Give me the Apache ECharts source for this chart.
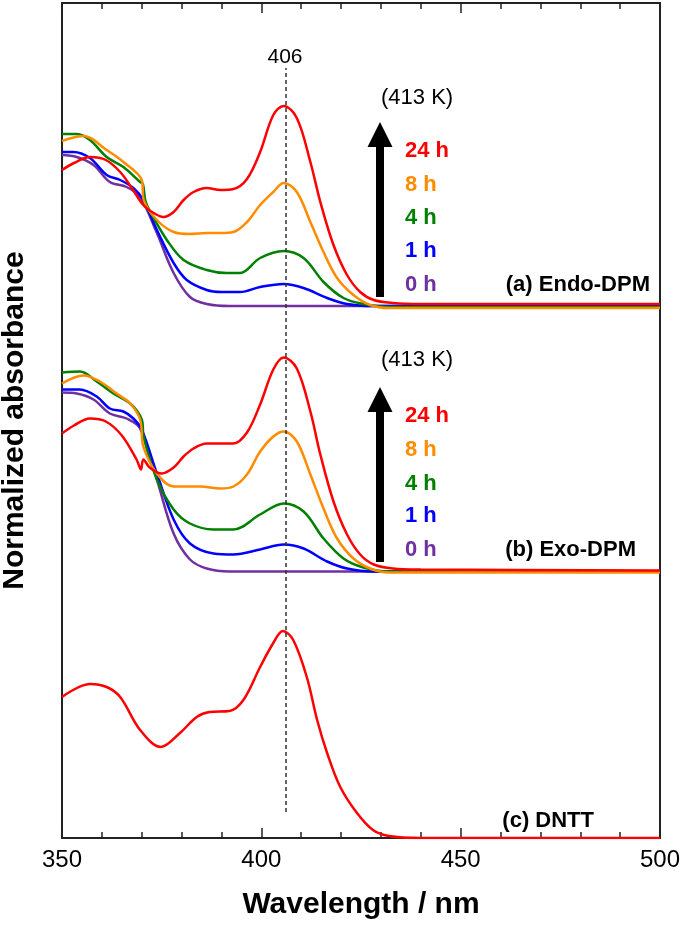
<!DOCTYPE html>
<html>
<head>
<meta charset="utf-8">
<script src="https://cdn.jsdelivr.net/npm/echarts@6/dist/echarts.min.js"></script>
<style>
  html, body { margin: 0; padding: 0; background: #fff; }
  #chart { width: 685px; height: 932px; }
</style>
</head>
<body>
<div id="chart"></div>
<script>
// wavelength ticks
var xTicks = [350, 400, 450, 500]
var hours = ['24 h', '8 h', '4 h', '1 h', '0 h']
var colors = ['#ff0000', '#ff8c00', '#008000', '#0000ff', '#7030a0']

// vertical offsets of the stacked spectra (arb. units)
var offA = 532, offB = 266.5, offC = 0

// (a) Endo-DPM, [wavelength, absorbance]
var endo24 = [[350,136],[353,143],[357,149],[361,146],[364.6,134],[367.5,118],[370.4,101],[373,93],[375.4,89],[378,94],[380.5,106],[383,114],[386.3,118],[389.7,116],[393,117],[396.4,127],[399.7,154],[403,191],[405.6,200],[408.9,188],[412.3,144],[414.8,104],[418.1,61],[421.5,31],[424.8,14],[428.2,6],[433,3],[440,2],[500,2]]
var endo8 = [[350,165],[355.4,170],[361.2,156],[365.4,144],[370,126],[370.5,106],[373.8,86],[378,74],[382,72],[386.3,73],[389.7,73],[393,74],[396.4,84],[399.7,101],[403,114],[405.6,123],[408.9,114],[412.3,84],[415.6,54],[419,28],[423.1,11],[427.3,1],[432,-2],[500,-2]]
var endo4 = [[350,172],[353.7,172],[357,166],[361.2,149],[365.4,139],[369.6,124],[370.3,122],[371,104],[373,88],[376.3,66],[380.5,46],[386.3,36],[391.3,33],[394.7,33],[399.7,48],[405.6,55],[410.6,48],[415.6,24],[420.6,8],[425.6,2],[432,-1],[500,-1]]
var endo1 = [[350,154],[352.8,154],[357,148],[361.2,131],[364.6,126],[367.9,118],[370.4,106],[373.8,76],[378,43],[381.3,26],[386.3,16],[390,14],[394.7,14],[399.7,19],[405.6,22],[410.6,18],[416.5,8],[421.5,2],[428,0],[500,0]]
var endo0 = [[350,151],[353.7,149],[357.9,141],[362,124],[366.2,119],[369.6,109],[373.8,73],[378,33],[382.1,9],[386.3,2],[392,0],[500,0]]

// (b) Exo-DPM
var exo24 = [[350,138],[353,146],[357,153],[361,150],[365,136],[368.7,112],[369.8,102],[370.4,112],[372,104],[375,98],[378,104],[380.5,115],[383,123],[386.3,128],[389.7,128],[393,128],[396.4,139],[399.7,167],[403,202],[405.6,214],[408.9,203],[412.3,160],[414.8,117],[418.1,70],[421.5,37],[424.8,17],[428.2,7],[433,3],[440,2],[500,1]]
var exo8 = [[350,188],[355.4,196],[359.5,190],[363.7,178],[367.1,168],[369.6,152],[370.4,125],[373.8,98],[378,85],[384.6,85],[389.7,83],[393,85],[396.4,97],[399.7,120],[403,135],[405.6,140],[408.9,130],[412.3,97],[415.6,63],[419,33],[423.1,13],[427.3,3],[432,-1],[500,-1]]
var exo4 = [[350,199],[354.5,200],[358.7,190],[362.9,178],[367.1,168],[370,152],[370.5,134],[373.8,92],[378,62],[382.1,48],[388,42],[393,42],[399.7,57],[405.6,68],[410.6,60],[415.6,33],[420.6,13],[425.6,4],[432,0],[500,0]]
var exo1 = [[350,182],[354.5,182],[358.7,175],[362,163],[365.4,160],[367.9,153],[370,142],[373.8,98],[378,52],[382.1,28],[388,18],[393,17],[399.7,22],[405.6,27],[410.6,23],[416.5,10],[421.5,3],[428,0],[500,0]]
var exo0 = [[350,179],[353.7,178],[357.9,172],[362,158],[366.2,153],[369.6,143],[373.8,92],[378,38],[382.1,12],[386.3,3],[392,0],[500,0]]

// (c) DNTT
var dntt = [[350,141],[357,154],[361.2,151],[364.6,141],[369.6,108],[374.8,91],[379.6,105],[383.8,121],[387,126],[392,127],[395.5,138],[399.7,171],[403,195],[405.4,207],[408,198],[411.4,161],[414,118],[416.5,85],[419.8,51],[424,25],[428,8],[432,2],[440,0],[500,0]]

var peakWl = 406

var font = '"Liberation Sans", Arial, sans-serif'

function shift(arr, off) {
    return arr.map(function (p) { return [p[0], p[1] + off] })
}

function line(name, arr, off, color) {
    return {
        name: name,
        type: 'line',
        data: shift(arr, off),
        showSymbol: false,
        smooth: 0.35,
        lineStyle: { color: color, width: 2.5 },
        animation: false,
        silent: true
    }
}

var series = [
    line('dntt', dntt, offC, colors[0]),
    line('exo0', exo0, offB, colors[4]),
    line('exo1', exo1, offB, colors[3]),
    line('exo4', exo4, offB, colors[2]),
    line('exo8', exo8, offB, colors[1]),
    line('exo24', exo24, offB, colors[0]),
    line('endo0', endo0, offA, colors[4]),
    line('endo1', endo1, offA, colors[3]),
    line('endo4', endo4, offA, colors[2]),
    line('endo8', endo8, offA, colors[1]),
    line('endo24', endo24, offA, colors[0])
]

// dashed guide at the peak
series[0].markLine = {
    silent: true,
    symbol: 'none',
    label: { show: false },
    lineStyle: { color: '#333', width: 1.5, type: [4, 3] },
    data: [[{ coord: [peakWl, 26] }, { coord: [peakWl, 770] }]]
}

var graphics = []

function txt(text, x, y, color, size, bold, align) {
    graphics.push({
        type: 'text',
        x: x, y: y,
        style: {
            text: text,
            fill: color,
            font: (bold ? 'bold ' : '') + size + 'px ' + font,
            textAlign: align || 'left',
            textVerticalAlign: 'middle'
        }
    })
}

function arrow(cx, tip, base, bottom) {
    graphics.push({
        type: 'polygon',
        shape: { points: [[cx, tip], [cx - 12.5, base], [cx + 12.5, base]] },
        style: { fill: '#000' }
    })
    graphics.push({
        type: 'rect',
        shape: { x: cx - 4, y: base - 1, width: 8, height: bottom - base + 1 },
        style: { fill: '#000' }
    })
}

txt(String(peakWl), 285, 57, '#000', 21, false, 'center')

// panel (a)
txt('(413 K)', 381, 98, '#000', 22, false)
arrow(380, 122, 147, 297)
var yA = [151, 185, 218, 251, 285]
var yB = [416, 450, 484, 516, 550]
hours.forEach(function (h, i) {
    txt(h, 405, yA[i], colors[i], 22, true)
    txt(h, 405, yB[i], colors[i], 22, true)
})
txt('(a) Endo-DPM', 650, 285, '#000', 22, true, 'right')

// panel (b)
txt('(413 K)', 381, 360, '#000', 22, false)
arrow(380, 387, 412, 562)
txt('(b) Exo-DPM', 636, 550, '#000', 22, true, 'right')

// panel (c)
txt('(c) DNTT', 594, 821, '#000', 22, true, 'right')

var tickCfg = {
    show: true, inside: true, length: 10,
    lineStyle: { color: '#222', width: 1.5 }
}
var minorCfg = {
    show: true, splitNumber: 5, length: 6,
    lineStyle: { color: '#222', width: 1.5 }
}

var option = {
    backgroundColor: '#fff',
    animation: false,
    grid: { left: 62, right: 25, top: 3, bottom: 94, containLabel: false, outerBoundsMode: 'none' },
    xAxis: [{
        type: 'value',
        min: 350, max: 500, interval: 50,
        position: 'bottom',
        name: 'Wavelength / nm',
        nameLocation: 'middle',
        nameGap: 52,
        nameTextStyle: { fontFamily: font, fontWeight: 'bold', fontSize: 30, color: '#000' },
        axisLine: { onZero: false, lineStyle: { color: '#222', width: 2 } },
        axisTick: tickCfg,
        minorTick: minorCfg,
        axisLabel: {
            fontFamily: font, fontSize: 24, color: '#000', margin: 10,
            formatter: function (v) { return xTicks.indexOf(v) >= 0 ? String(v) : '' }
        },
        splitLine: { show: false }
    }, {
        type: 'value',
        min: 350, max: 500, interval: 50,
        position: 'top',
        axisLine: { onZero: false, lineStyle: { color: '#222', width: 2 } },
        axisTick: tickCfg,
        minorTick: minorCfg,
        axisLabel: { show: false },
        splitLine: { show: false }
    }],
    yAxis: [{
        type: 'value',
        min: 0, max: 835,
        position: 'left',
        name: 'Normalized absorbance',
        nameLocation: 'middle',
        nameGap: 32,
        nameTextStyle: { fontFamily: font, fontWeight: 'bold', fontSize: 30, color: '#000' },
        axisLine: { show: true, onZero: false, lineStyle: { color: '#222', width: 2 } },
        axisTick: { show: false },
        axisLabel: { show: false },
        splitLine: { show: false }
    }, {
        type: 'value',
        min: 0, max: 835,
        position: 'right',
        axisLine: { show: true, onZero: false, lineStyle: { color: '#222', width: 2 } },
        axisTick: { show: false },
        axisLabel: { show: false },
        splitLine: { show: false }
    }],
    series: series,
    graphic: graphics
}

var chart = echarts.init(document.getElementById('chart'))
chart.setOption(option)
</script>
</body>
</html>
